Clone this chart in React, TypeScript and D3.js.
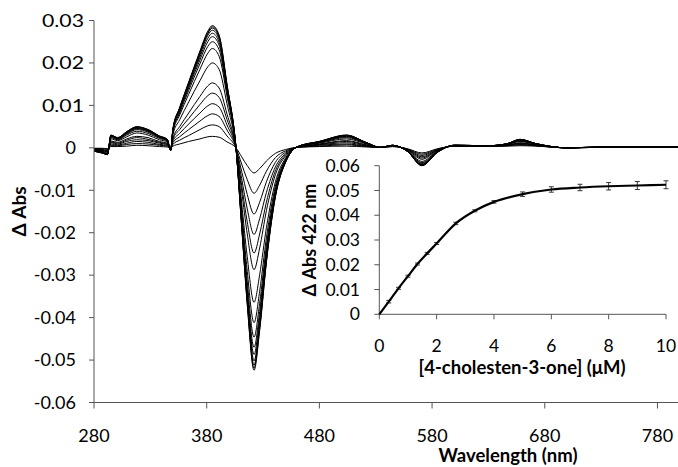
import React from "react";
import * as d3 from "d3";

// Wavelength grid (nm) for the titration difference spectra
const WAVELENGTHS = [280, 287, 292, 295, 301, 309, 318, 328, 338, 345, 348, 350, 356, 364, 374, 381, 385, 391, 398, 406, 411, 416, 422, 427, 433, 441, 450, 460, 480, 504, 522, 534, 545, 558, 571, 585, 600, 630, 647, 658, 672, 700, 750, 800];

// ΔAbs values in milli-absorbance units (×10⁻³), one array per titration step
const SPEC_01 = [-0.1, -0.1, -0.2, 0.3, 0.3, 0.4, 0.6, 0.5, 0.3, 0.2, -0.1, 0.4, 0.9, 1.5, 2.1, 2.6, 2.7, 2.5, 1.4, 0, -2.1, -4.2, -5.9, -4.9, -3.1, -1.3, -0.4, 0.1, 0.3, 0.4, 0.2, 0.1, 0.3, -0.2, -1.2, -0.2, 0.4, 0.4, 0.4, 0.5, 0.4, 0.0, 0.2, 0.2];
const SPEC_02 = [-0.2, -0.2, -0.3, 0.6, 0.5, 0.8, 1.0, 0.9, 0.6, 0.4, -0.1, 0.8, 1.8, 2.9, 4.3, 5.2, 5.4, 5.0, 2.8, 0, -3.8, -7.5, -10.7, -8.8, -5.5, -2.3, -0.7, 0.1, 0.4, 0.7, 0.3, 0.1, 0.3, -0.3, -1.5, -0.3, 0.4, 0.4, 0.5, 0.7, 0.5, 0.0, 0.2, 0.2];
const SPEC_03 = [-0.2, -0.4, -0.5, 0.9, 0.7, 1.1, 1.5, 1.3, 0.8, 0.6, -0.2, 1.2, 2.6, 4.3, 6.3, 7.6, 8.0, 7.4, 4.2, 0, -5.5, -11.0, -15.6, -12.8, -8.0, -3.4, -1.0, 0.1, 0.6, 0.9, 0.4, 0.1, 0.4, -0.3, -1.8, -0.4, 0.4, 0.4, 0.5, 0.8, 0.5, 0.0, 0.2, 0.2];
const SPEC_04 = [-0.3, -0.5, -0.6, 1.2, 0.9, 1.5, 1.9, 1.7, 1.1, 0.8, -0.2, 1.6, 3.4, 5.6, 8.2, 9.9, 10.4, 9.6, 5.4, 0, -7.2, -14.4, -20.4, -16.7, -10.5, -4.5, -1.3, 0.1, 0.7, 1.2, 0.5, 0.1, 0.4, -0.4, -2.1, -0.5, 0.5, 0.4, 0.6, 1.0, 0.6, 0.0, 0.2, 0.2];
const SPEC_05 = [-0.4, -0.6, -0.8, 1.4, 1.1, 1.8, 2.4, 2.0, 1.3, 0.9, -0.3, 2.0, 4.3, 6.9, 10.2, 12.3, 12.9, 11.9, 6.7, 0, -8.8, -17.5, -24.8, -20.3, -12.8, -5.4, -1.6, 0.1, 0.8, 1.5, 0.6, 0.1, 0.4, -0.4, -2.4, -0.5, 0.5, 0.4, 0.6, 1.1, 0.6, 0.0, 0.2, 0.2];
const SPEC_06 = [-0.4, -0.7, -0.9, 1.6, 1.3, 2.1, 2.7, 2.4, 1.5, 1.1, -0.3, 2.3, 5.0, 8.2, 12.1, 14.6, 15.3, 14.1, 8.0, 0, -10.1, -20.3, -28.7, -23.6, -14.8, -6.3, -1.9, 0.2, 0.9, 1.7, 0.7, 0.1, 0.5, -0.5, -2.7, -0.6, 0.5, 0.5, 0.7, 1.2, 0.7, 0.0, 0.2, 0.2];
const SPEC_07 = [-0.6, -0.8, -1.1, 2.1, 1.7, 2.6, 3.5, 3.0, 1.9, 1.4, -0.4, 3.1, 6.6, 10.8, 15.8, 19.1, 20.0, 18.5, 10.4, 0, -12.9, -25.7, -36.4, -29.9, -18.8, -8.0, -2.4, 0.2, 1.1, 2.1, 0.9, 0.1, 0.5, -0.6, -3.2, -0.7, 0.5, 0.5, 0.8, 1.5, 0.8, 0.0, 0.3, 0.3];
const SPEC_08 = [-0.6, -0.9, -1.3, 2.4, 1.9, 3.0, 3.9, 3.4, 2.2, 1.6, -0.5, 3.6, 7.7, 12.6, 18.5, 22.3, 23.4, 21.6, 12.2, 0, -14.5, -29.1, -41.2, -33.8, -21.2, -9.0, -2.7, 0.2, 1.2, 2.4, 1.0, 0.1, 0.5, -0.7, -3.5, -0.8, 0.6, 0.5, 0.9, 1.6, 0.9, 0.0, 0.3, 0.3];
const SPEC_09 = [-0.7, -1.0, -1.4, 2.6, 2.0, 3.2, 4.3, 3.7, 2.4, 1.7, -0.5, 3.8, 8.2, 13.5, 19.8, 23.9, 25.0, 23.1, 13.0, 0, -15.7, -31.5, -44.6, -36.6, -23.0, -9.8, -2.9, 0.2, 1.3, 2.6, 1.0, 0.1, 0.5, -0.7, -3.7, -0.9, 0.6, 0.5, 0.9, 1.7, 0.9, 0.0, 0.3, 0.3];
const SPEC_10 = [-0.7, -1.1, -1.4, 2.7, 2.2, 3.4, 4.5, 3.9, 2.5, 1.8, -0.5, 4.0, 8.6, 14.1, 20.7, 25.0, 26.2, 24.2, 13.7, 0, -16.6, -33.2, -47.0, -38.6, -24.2, -10.3, -3.0, 0.2, 1.4, 2.7, 1.1, 0.1, 0.6, -0.7, -3.9, -0.9, 0.6, 0.5, 0.9, 1.8, 0.9, 0.0, 0.3, 0.3];
const SPEC_11 = [-0.7, -1.1, -1.5, 2.8, 2.2, 3.5, 4.6, 4.0, 2.6, 1.9, -0.6, 4.1, 8.9, 14.5, 21.4, 25.8, 27.0, 24.9, 14.1, 0, -17.2, -34.4, -48.7, -39.9, -25.1, -10.7, -3.2, 0.2, 1.4, 2.8, 1.1, 0.1, 0.6, -0.8, -4.0, -0.9, 0.6, 0.5, 1.0, 1.9, 1.0, 0.0, 0.3, 0.3];
const SPEC_12 = [-0.8, -1.1, -1.5, 2.9, 2.3, 3.6, 4.8, 4.1, 2.7, 1.9, -0.6, 4.2, 9.1, 14.9, 21.9, 26.5, 27.7, 25.6, 14.4, 0, -17.7, -35.4, -50.2, -41.2, -25.9, -11.0, -3.3, 0.2, 1.4, 2.9, 1.2, 0.1, 0.6, -0.8, -4.1, -1.0, 0.6, 0.5, 1.0, 1.9, 1.0, 0.0, 0.3, 0.3];
const SPEC_13 = [-0.8, -1.2, -1.6, 2.9, 2.3, 3.7, 4.9, 4.2, 2.7, 2.0, -0.6, 4.3, 9.3, 15.2, 22.3, 26.9, 28.2, 26.0, 14.7, 0, -18.1, -36.1, -51.2, -42.0, -26.4, -11.2, -3.3, 0.2, 1.5, 2.9, 1.2, 0.1, 0.6, -0.8, -4.1, -1.0, 0.6, 0.5, 1.0, 2.0, 1.0, 0.0, 0.3, 0.3];
const SPEC_14 = [-0.8, -1.2, -1.6, 3.0, 2.4, 3.8, 4.9, 4.3, 2.8, 2.0, -0.6, 4.4, 9.4, 15.3, 22.6, 27.2, 28.5, 26.3, 14.9, 0, -18.3, -36.6, -51.9, -42.6, -26.7, -11.4, -3.4, 0.2, 1.5, 3.0, 1.2, 0.1, 0.6, -0.8, -4.2, -1.0, 0.6, 0.5, 1.0, 2.0, 1.0, 0.0, 0.3, 0.3];
const SPEC_15 = [-0.8, -1.2, -1.6, 3.0, 2.4, 3.8, 5.0, 4.3, 2.8, 2.0, -0.6, 4.4, 9.5, 15.5, 22.8, 27.5, 28.8, 26.6, 15.0, 0, -18.5, -37.0, -52.4, -43.0, -27.0, -11.5, -3.4, 0.2, 1.5, 3.0, 1.2, 0.1, 0.6, -0.8, -4.2, -1.0, 0.6, 0.5, 1.0, 2.0, 1.0, 0.0, 0.3, 0.3];
const SPECTRA = [SPEC_01, SPEC_02, SPEC_03, SPEC_04, SPEC_05, SPEC_06, SPEC_07, SPEC_08, SPEC_09, SPEC_10, SPEC_11, SPEC_12, SPEC_13, SPEC_14, SPEC_15];

// Inset: binding titration at 422 nm
const CONC_UM = [0, 0.33, 0.67, 1, 1.33, 1.67, 2, 2.67, 3.33, 4, 5, 6, 7, 8, 9, 10];
const DABS_422 = [0, 0.0051, 0.0105, 0.0154, 0.0203, 0.0246, 0.0286, 0.0367, 0.0418, 0.0454, 0.0485, 0.0504, 0.0512, 0.0517, 0.052, 0.0523];
const ERR_422 = [0, 0.0005, 0.0004, 0.0004, 0.0004, 0.0004, 0.0004, 0.0005, 0.0004, 0.0005, 0.0009, 0.0011, 0.0013, 0.0015, 0.0016, 0.0016];

const MAIN_X_TICKS = [280, 380, 480, 580, 680, 780];
const MAIN_Y_TICKS = [0.03, 0.02, 0.01, 0, -0.01, -0.02, -0.03, -0.04, -0.05, -0.06];
const INSET_X_TICKS = [0, 2, 4, 6, 8, 10];
const INSET_Y_TICKS = [0, 0.01, 0.02, 0.03, 0.04, 0.05, 0.06];

const FONT = "Lato, 'Open Sans', sans-serif";

export default function App() {
  const W = 678;
  const H = 467;

  const x = d3.scaleLinear().domain([280, 800]).range([94, 680]);
  const y = d3.scaleLinear().domain([-0.06, 0.03]).range([402.5, 20.5]);

  const xi = d3.scaleLinear().domain([0, 10]).range([379.3, 666]);
  const yi = d3.scaleLinear().domain([0, 0.06]).range([314.3, 165.7]);

  const specLine = d3
    .line<number>()
    .x((_, i) => x(WAVELENGTHS[i]))
    .y((d) => y(d / 1000))
    .curve(d3.curveMonotoneX);

  const insetLine = d3
    .line<number>()
    .x((_, i) => xi(CONC_UM[i]))
    .y((d) => yi(d))
    .curve(d3.curveMonotoneX);

  const fmt = (v: number) => (v === 0 ? "0" : String(Number(v.toFixed(2))));

  return (
    <svg
      width={W}
      height={H}
      style={{ position: "absolute", left: 0, top: 0, background: "#fff" }}
      fontFamily={FONT}
    >
      <rect x={0} y={0} width={W} height={H} fill="#fff" />

      {/* Main spectra */}
      <g fill="none" stroke="#000" strokeWidth={1}>
        {SPECTRA.map((s, k) => (
          <path key={k} d={specLine(s) || ""} />
        ))}
      </g>

      {/* Main axes */}
      <g stroke="#555" strokeWidth={1} fill="none">
        <line x1={x(280)} x2={x(280)} y1={y(0.03)} y2={y(-0.06)} />
        <line x1={x(280)} x2={x(800)} y1={y(-0.06)} y2={y(-0.06)} />
        {MAIN_Y_TICKS.map((t) => (
          <line key={t} x1={x(280) - 5} x2={x(280)} y1={y(t)} y2={y(t)} />
        ))}
        {MAIN_X_TICKS.map((t) => (
          <line key={t} x1={x(t)} x2={x(t)} y1={y(-0.06)} y2={y(-0.06) + 6} />
        ))}
      </g>
      <g fontSize={18} fill="#000">
        {MAIN_Y_TICKS.map((t) =>
          t > 0 ? (
            <text key={t} x={84} y={y(t)} dy="0.35em" textAnchor="end" textLength={42} lengthAdjust="spacingAndGlyphs">
              {fmt(t)}
            </text>
          ) : (
            <text key={t} x={76} y={y(t)} dy="0.35em" textAnchor="end">
              {fmt(t)}
            </text>
          )
        )}
        {MAIN_X_TICKS.map((t) => (
          <text key={t} x={x(t)} y={442} textAnchor="middle">
            {t}
          </text>
        ))}
      </g>
      <text x={508} y={462} textAnchor="middle" fontSize={18.5} fontWeight="bold">
        Wavelength (nm)
      </text>
      <text
        transform={`translate(26,${(y(0.03) + y(-0.06)) / 2}) rotate(-90)`}
        textAnchor="middle"
        fontSize={19}
        fontWeight="bold"
      >
        Δ Abs
      </text>

      {/* Inset */}
      <g stroke="#555" strokeWidth={1} fill="none">
        <line x1={xi(0)} x2={xi(0)} y1={yi(0.06)} y2={yi(0)} />
        <line x1={xi(0)} x2={xi(10)} y1={yi(0)} y2={yi(0)} />
        {INSET_Y_TICKS.map((t) => (
          <line key={t} x1={xi(0) - 5} x2={xi(0)} y1={yi(t)} y2={yi(t)} />
        ))}
        {INSET_X_TICKS.map((t) => (
          <line key={t} x1={xi(t)} x2={xi(t)} y1={yi(0)} y2={yi(0) + 5} />
        ))}
      </g>
      <g stroke="#222" strokeWidth={0.9} fill="none">
        {CONC_UM.map((c, i) =>
          ERR_422[i] > 0 ? (
            <g key={i}>
              <line x1={xi(c)} x2={xi(c)} y1={yi(DABS_422[i] - ERR_422[i])} y2={yi(DABS_422[i] + ERR_422[i])} />
              <line x1={xi(c) - 2.5} x2={xi(c) + 2.5} y1={yi(DABS_422[i] + ERR_422[i])} y2={yi(DABS_422[i] + ERR_422[i])} />
              <line x1={xi(c) - 2.5} x2={xi(c) + 2.5} y1={yi(DABS_422[i] - ERR_422[i])} y2={yi(DABS_422[i] - ERR_422[i])} />
            </g>
          ) : null
        )}
      </g>
      <path d={insetLine(DABS_422) || ""} fill="none" stroke="#000" strokeWidth={2.2} />
      <g fontSize={17.5} fill="#000">
        {INSET_Y_TICKS.map((t) => (
          <text key={t} x={360} y={yi(t)} dy="0.35em" textAnchor="end">
            {fmt(t)}
          </text>
        ))}
        {INSET_X_TICKS.map((t) => (
          <text key={t} x={xi(t)} y={352} textAnchor="middle">
            {t}
          </text>
        ))}
      </g>
      <text x={522} y={374} textAnchor="middle" fontSize={18.5} fontWeight="bold">
        [4-cholesten-3-one] (μM)
      </text>
      <text
        transform={`translate(316,240) rotate(-90)`}
        textAnchor="middle"
        fontSize={18}
        fontWeight="bold"
      >
        Δ Abs 422 nm
      </text>
    </svg>
  );
}
